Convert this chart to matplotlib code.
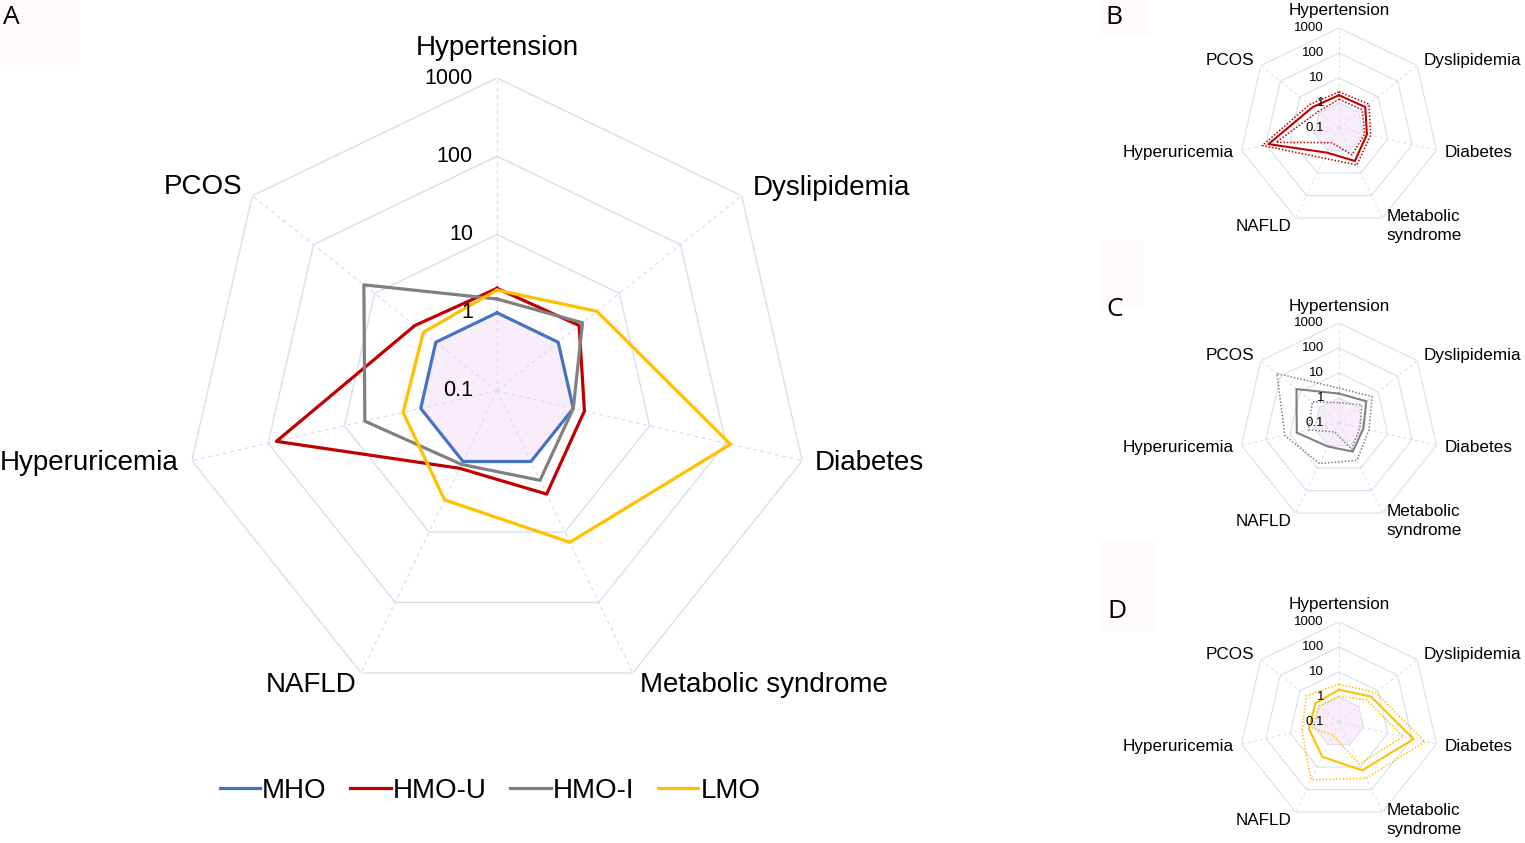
import numpy as np
import matplotlib
matplotlib.use("Agg")
import matplotlib.pyplot as plt
from matplotlib.patches import Rectangle
from matplotlib.lines import Line2D

plt.rcParams['font.family'] = ['Liberation Sans', 'DejaVu Sans']

# ---------------- data ----------------
categories = ["Hypertension", "Dyslipidemia", "Diabetes", "Metabolic syndrome",
              "NAFLD", "Hyperuricemia", "PCOS"]
series_names = ["MHO", "HMO-U", "HMO-I", "LMO"]
colors = ["#4472C4", "#C00000", "#808080", "#FFC000"]

mho = [1, 1, 1, 1, 1, 1, 1]
hmo_u = [2.05, 2.2, 1.4, 2.9, 1.25, 78, 2.2]
hmo_i = [1.5, 2.5, 1.0, 1.85, 1.1, 5.4, 15]
lmo = [1.95, 4.3, 115, 14, 3.5, 1.7, 1.6]

hmo_u_low = [1.4, 1.5, 1.15, 1.55, 0.45, 38, 1.15]
hmo_u_high = [2.8, 3.4, 2.0, 4.4, 2.2, 140, 3.2]
hmo_i_low = [0.65, 1.45, 0.72, 1.45, 0.25, 1.75, 2.3]
hmo_i_high = [2.5, 4.9, 1.7, 4.5, 6.3, 16.7, 150]
lmo_low = [1.07, 2.6, 43, 7.4, 0.38, 1.24, 1.07]
lmo_high = [3.3, 7.6, 335, 31.6, 37, 3.3, 4.6]

reference = [1, 1, 1, 1, 1, 1, 1]
tick_values = [0.1, 1, 10, 100, 1000]
tick_labels = ["0.1", "1", "10", "100", "1000"]
panel_letters = ["A", "B", "C", "D"]

# ---------------- helpers ----------------
W, H = 1525, 843
fig = plt.figure(figsize=(W / 100, H / 100), dpi=100)

n = len(categories)
theta = np.linspace(0, 2 * np.pi, n, endpoint=False)
theta_c = np.append(theta, theta[0])


def close(v):
    v = list(v)
    return v + v[:1]


def make_ax(cx, cy, R):
    ax = fig.add_axes([(cx - R) / W, 1 - (cy + R) / H, 2 * R / W, 2 * R / H],
                      projection='polar')
    ax.set_theta_offset(np.pi / 2)
    ax.set_theta_direction(-1)
    ax.set_rscale('log')
    ax.set_rlim(0.1, 1000)
    ax.grid(False)
    ax.spines['polar'].set_visible(False)
    ax.set_xticks([])
    ax.set_yticks([])
    ax.patch.set_alpha(0)
    return ax


def draw_grid(ax, lw):
    for v in tick_values[1:]:
        ax.plot(theta_c, [v] * (n + 1), color="#D6DFF0", lw=lw, zorder=1)
    for t in theta:
        ax.plot([t, t], [0.1, 1000], color="#D6DFF0", lw=lw * 0.9,
                ls=(0, (3, 3)), zorder=1)
    ax.fill(theta_c, close(reference), color="#F8EDF8", lw=0, zorder=0.5)


def draw_ticks(ax, fs, dx):
    for v, lab in zip(tick_values, tick_labels):
        ax.annotate(lab, xy=(0, v), xytext=(dx, 0), textcoords='offset pixels',
                    ha='right', va='center', fontsize=fs, color='#000000',
                    zorder=5)


def draw_labels(ax, fs, offs, small=False):
    has = ['center', 'left', 'left', 'left', 'right', 'right', 'right']
    for i, (t, lab) in enumerate(zip(theta, categories)):
        text = lab
        if small and lab == "Metabolic syndrome":
            text = "Metabolic\nsyndrome"
        ax.annotate(text, xy=(t, 1000), xytext=offs[i],
                    textcoords='offset pixels', ha=has[i], va='center',
                    fontsize=fs, linespacing=1.3,
                    multialignment='left', annotation_clip=False)


# ---------------- panel A ----------------
axA = make_ax(497, 391, 313)
draw_grid(axA, 1.0)
for vals, col in zip([mho, hmo_u, hmo_i, lmo], colors):
    axA.plot(theta_c, close(vals), color=col, lw=2.3, zorder=3)
draw_ticks(axA, 15.5, -24)
offsA = [(0, 30), (11, 8), (13, -2), (7, -12), (-5, -12), (-13, -2), (-10, 9)]
draw_labels(axA, 20, offsA)

handles = [Line2D([0], [0], color=c, lw=2.3) for c in colors]
fig.legend(handles, series_names, loc='center', bbox_to_anchor=(490 / W, 1 - 791 / H),
           ncol=4, frameon=False, fontsize=20, handlelength=1.45,
           handletextpad=0.08, columnspacing=0.85)

# ---------------- small panels ----------------
small = [
    (128, hmo_u, hmo_u_low, hmo_u_high, colors[1]),
    (423, hmo_i, hmo_i_low, hmo_i_high, colors[2]),
    (722, lmo, lmo_low, lmo_high, colors[3]),
]
offsS = [(0, 17), (6, 5), (8, -2), (4, -8), (-4, -8), (-8, -2), (-7, 5)]
for cy, mid, lo, hi, col in small:
    ax = make_ax(1339, cy, 100)
    draw_grid(ax, 0.8)
    ax.plot(theta_c, close(mid), color=col, lw=1.5, zorder=3)
    ax.plot(theta_c, close(lo), color=col, lw=1.1, ls=(0, (1, 1.2)), zorder=3)
    ax.plot(theta_c, close(hi), color=col, lw=1.1, ls=(0, (1, 1.2)), zorder=3)
    draw_ticks(ax, 9.5, -15)
    draw_labels(ax, 12.3, offsS, small=True)

# ---------------- panel letters ----------------
letter_pos = [(3, 18), (1105, 18), (1106, 310), (1107, 612)]
bg = [(0, 0, 80, 65), (1100, 0, 50, 35), (1101, 240, 43, 70), (1101, 541, 54, 91)]
for (x0, y0, w, h) in bg:
    fig.patches.append(Rectangle((x0 / W, 1 - (y0 + h) / H), w / W, h / H,
                                 transform=fig.transFigure, color="#FEFAFD",
                                 lw=0, zorder=-1))
for (x, y), let in zip(letter_pos, panel_letters):
    fig.text(x / W, 1 - y / H, let, ha='left', va='center', fontsize=19,
             family=['Open Sans', 'DejaVu Sans'])

fig.savefig("out.png", dpi=100, facecolor='white')
